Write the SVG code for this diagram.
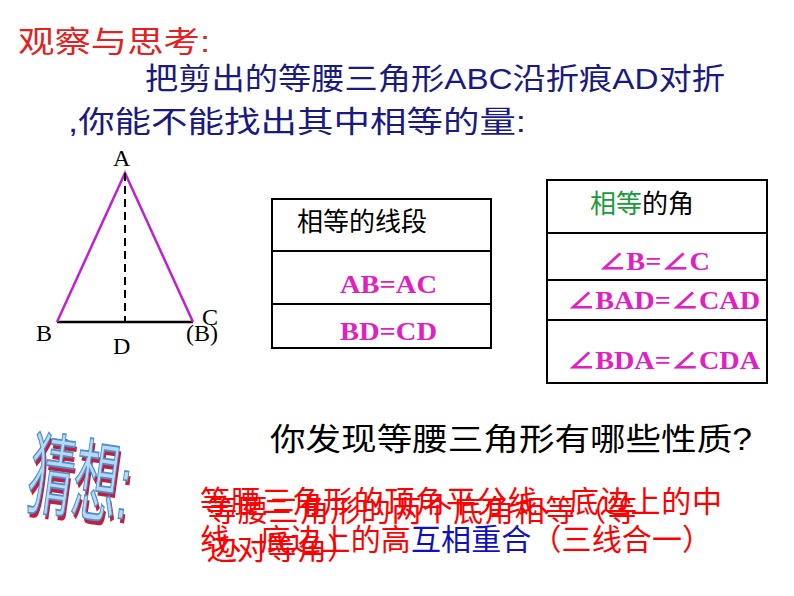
<svg xmlns="http://www.w3.org/2000/svg" width="794" height="596" viewBox="0 0 794 596">
<style>
.cn{font-family:"Liberation Sans","Noto Sans CJK SC",sans-serif}
.sr{font-family:"Liberation Serif","Noto Sans CJK SC",serif}
.box{fill:none;stroke:#000;stroke-width:2}
.mg{fill:#e020c0;font-weight:bold;font-family:"Liberation Serif","Noto Sans CJK SC",serif;font-size:25px}
.rd{fill:#f00;font-size:30px}
</style>
<rect width="794" height="596" fill="#fff"/>
<g id="title">
<text x="18" y="52" class="cn" font-size="30" fill="#e52020" textLength="192" lengthAdjust="spacingAndGlyphs">观察与思考:</text>
<text x="145" y="89" class="cn" font-size="30" fill="#1a1a80" textLength="580" lengthAdjust="spacingAndGlyphs">把剪出的等腰三角形ABC沿折痕AD对折</text>
<text x="68" y="132" class="cn" font-size="30" fill="#1a1a80" textLength="458" lengthAdjust="spacingAndGlyphs">,你能不能找出其中相等的量:</text>
</g>
<g id="triangle">
<line x1="57" y1="322" x2="193" y2="322" stroke="#000" stroke-width="2.5"/>
<polyline points="57,322 125,173 193,322" fill="none" stroke="#c020d0" stroke-width="2.5"/>
<line x1="125" y1="173" x2="125" y2="322" stroke="#000" stroke-width="2" stroke-dasharray="8,5"/>
<g class="sr" font-size="24" fill="#000">
<text x="113" y="166">A</text><text x="36" y="341">B</text><text x="113" y="354">D</text>
<text x="202" y="325">C</text><text x="186" y="341">(B)</text>
</g>
</g>
<g id="segments">
<rect x="272" y="199" width="219" height="149" class="box"/>
<line x1="272" y1="251" x2="491" y2="251" class="box"/>
<line x1="272" y1="304" x2="491" y2="304" class="box"/>
<text x="297" y="231" class="cn" font-size="26">相等的线段</text>
<text x="340" y="293" class="mg" textLength="97" lengthAdjust="spacingAndGlyphs">AB=AC</text>
<text x="340" y="340" class="mg" textLength="97" lengthAdjust="spacingAndGlyphs">BD=CD</text>
</g>
<g id="angles">
<rect x="547" y="180" width="220" height="203" class="box"/>
<line x1="547" y1="233" x2="767" y2="233" class="box"/>
<line x1="547" y1="280" x2="767" y2="280" class="box"/>
<line x1="547" y1="320" x2="767" y2="320" class="box"/>
<text x="590" y="213" class="cn" font-size="26"><tspan fill="#1a9a3a">相等</tspan>的角</text>
<text x="598" y="270" class="mg" textLength="112" lengthAdjust="spacingAndGlyphs">∠B=∠C</text>
<text x="567" y="309" class="mg" textLength="193" lengthAdjust="spacingAndGlyphs">∠BAD=∠CAD</text>
<text x="567" y="369" class="mg" textLength="193" lengthAdjust="spacingAndGlyphs">∠BDA=∠CDA</text>
</g>
<g id="guess">
<g transform="translate(25,505) rotate(8) scale(0.75,1.5)">
<text x="3" y="3" class="cn" font-size="60" fill="#c02040">猜想:</text>
<text x="0" y="0" class="cn" font-size="60" fill="#b8d8f4" stroke="#4a90d0" stroke-width="1.2">猜想:</text>
</g>
<text x="270" y="450" class="cn" font-size="31" textLength="482" lengthAdjust="spacingAndGlyphs">你发现等腰三角形有哪些性质?</text>
</g>
<g id="props" class="cn">
<text x="200" y="512" class="rd" textLength="522">等腰三角形的顶角平分线、底边上的中</text>
<text x="200" y="550" class="rd" textLength="512">线、底边上的高<tspan fill="#1010c0">互相重合</tspan>（三线合一）</text>
<text x="207" y="521" class="rd" textLength="430">等腰三角形的两个底角相等（等</text>
<text x="207" y="559" class="rd" textLength="150">边对等角）</text>
</g>
</svg>
